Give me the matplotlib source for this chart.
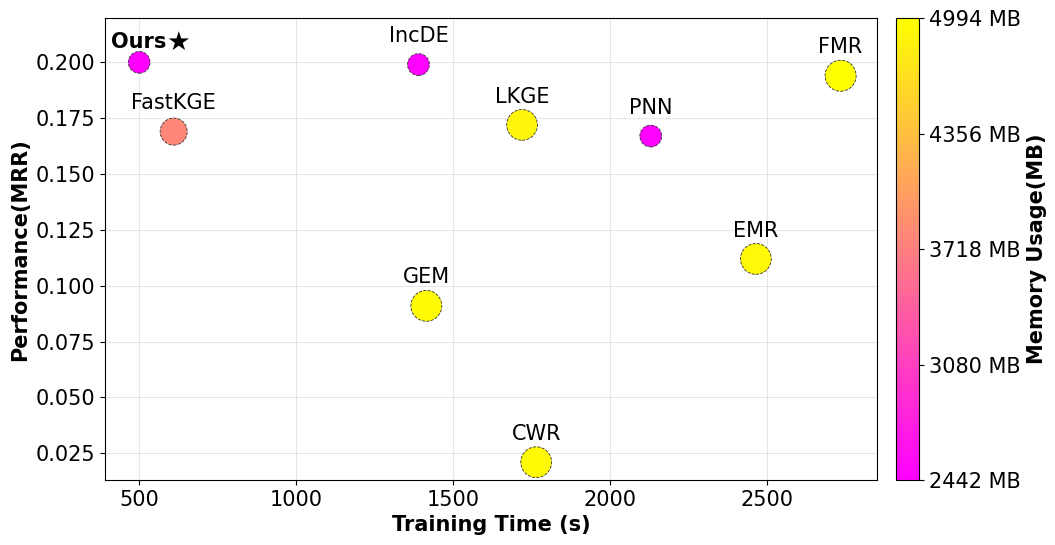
import matplotlib
matplotlib.use('Agg')
import matplotlib.pyplot as plt
import numpy as np

# 데이터
methods = ['Ours', 'IncDE', 'FastKGE', 'LKGE', 'PNN', 'GEM', 'EMR', 'FMR', 'CWR']
train_time = [500, 1390, 610, 1720, 2130, 1415, 2465, 2735, 1765]
mrr = [0.200, 0.199, 0.169, 0.172, 0.167, 0.091, 0.112, 0.194, 0.021]
memory = [2442, 2470, 3790, 4900, 2460, 4950, 4920, 4994, 4930]

fig = plt.figure(figsize=(10.55, 5.45), dpi=100)
ax = fig.add_axes([0.0998, 0.1193, 0.7312, 0.8471])
cax = fig.add_axes([0.8490, 0.1193, 0.0224, 0.8471])

sizes = [m / 10 for m in memory]
sc = ax.scatter(train_time, mrr, s=sizes, c=memory, cmap='spring',
                vmin=min(memory), vmax=max(memory),
                edgecolors='#333333', linewidths=0.6, linestyle='--', zorder=3)

for name, x, y in zip(methods, train_time, mrr):
    if name == 'Ours':
        t = ax.text(x - 90, y + 0.009, 'Ours', ha='left', va='center',
                    fontsize=15, fontweight='bold')
        ax.annotate('★', xy=(1, 0.45), xycoords=t, ha='left', va='center',
                    fontsize=19)
    else:
        ax.text(x, y + 0.0127, name, ha='center', va='center', fontsize=15)

ax.set_xlim(392, 2850)
ax.set_ylim(0.01305, 0.2197)
ax.set_xlabel('Training Time (s)', fontsize=15, fontweight='bold')
ax.set_ylabel('Performance(MRR)', fontsize=15, fontweight='bold')
ax.tick_params(labelsize=15)
ax.grid(True, alpha=0.3)

ticks = np.linspace(min(memory), max(memory), 5)
cb = fig.colorbar(sc, cax=cax, ticks=ticks)
cb.ax.set_yticklabels([f'{int(round(t))} MB' for t in ticks])
cb.ax.tick_params(labelsize=15)
cb.set_label('Memory Usage(MB)', fontsize=15, fontweight='bold')

fig.savefig('out.png', dpi=100)
